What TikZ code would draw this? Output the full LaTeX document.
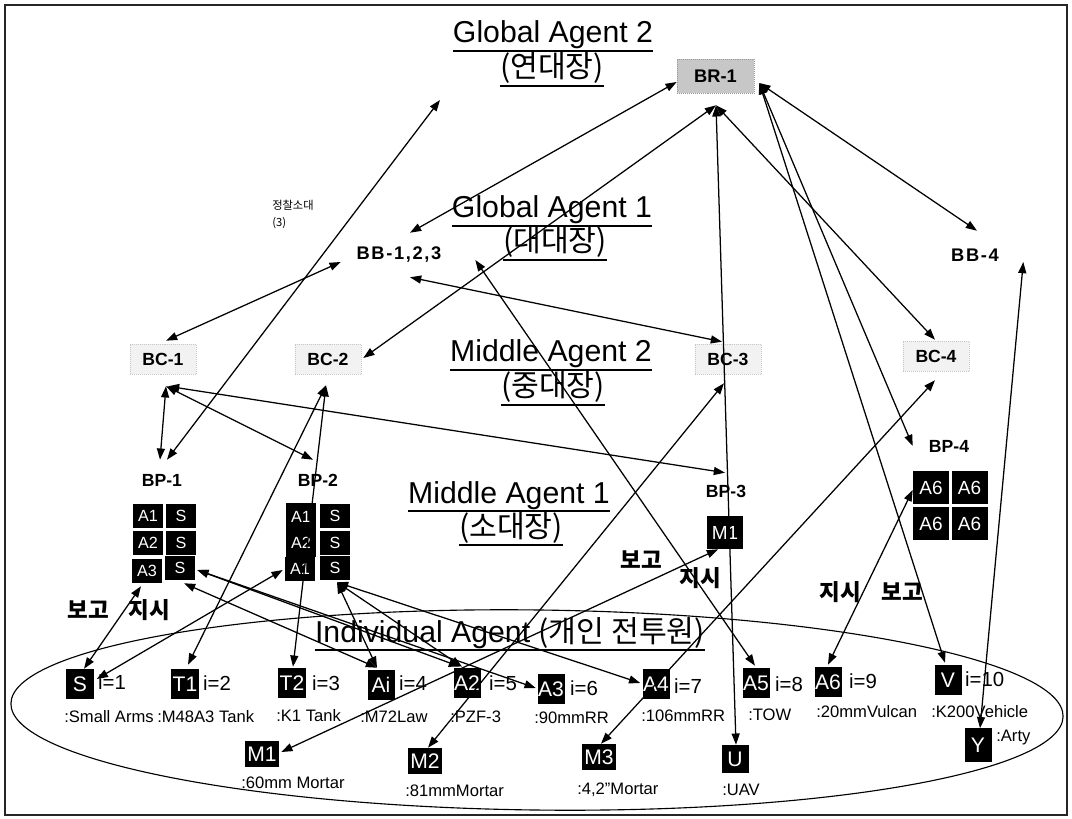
\documentclass[tikz,border=0pt]{standalone}
\usepackage{fontspec}
\setmainfont{Liberation Sans}
\newfontfamily\cjk{Noto Sans CJK KR}
\usetikzlibrary{arrows.meta,calc}

\begin{document}
\begin{tikzpicture}[x=0.025cm,y=-0.025cm,
  every node/.style={inner sep=0pt},
  ttl/.style={font=\fontsize{21.5}{24}\selectfont, anchor=base, inner xsep=0pt, inner ysep=1.2pt},
  ulin/.style={line width=1.1pt},
  blab/.style={font=\bfseries\fontsize{12.5}{14}\selectfont},
  wide/.style={font=\bfseries\fontsize{13}{15}\selectfont\addfontfeature{LetterSpace=9}},
  bcbox/.style={blab, minimum width=1.65cm, minimum height=0.75cm, fill=black!5, draw=black!22, densely dotted},
  bpbox/.style={blab, minimum width=1.8cm, minimum height=1cm},
  cell/.style={fill=black, text=white, font=\fontsize{11.5}{13}\selectfont, minimum width=0.75cm, minimum height=0.6cm},
  bigcell/.style={fill=black, text=white, font=\fontsize{13.5}{15}\selectfont, minimum width=0.9cm, minimum height=0.825cm},
  unit/.style={fill=black, text=white, font=\fontsize{15}{17}\selectfont, minimum width=0.675cm, minimum height=0.75cm},
  mortar/.style={unit, minimum width=0.85cm, minimum height=0.65cm},
  idx/.style={font=\fontsize{14.5}{16}\selectfont, anchor=west},
  desc/.style={font=\fontsize{11.8}{13}\selectfont, anchor=west},
  say/.style={font=\cjk\bfseries\fontsize{16}{18}\selectfont},
  link/.style={line width=0.9pt, {Triangle[length=2.8mm,width=2mm]}-{Triangle[length=2.8mm,width=2mm]}}
]
\useasboundingbox (0,0) rectangle (1072,819);
\draw[line width=1.4pt, black!85] (5,5) rectangle (1067,815);

% level titles
\node[ttl] (ga2)  at (553,43)  {Global Agent 2};
\node[ttl] (ga2k) at (552,78)  {\cjk (연대장)};
\node[ttl] (ga1)  at (552,218) {Global Agent 1};
\node[ttl] (ga1k) at (555,252) {\cjk (대대장)};
\node[ttl] (ma2)  at (551,362) {Middle Agent 2};
\node[ttl] (ma2k) at (553,397) {\cjk (중대장)};
\node[ttl] (ma1)  at (509,503) {Middle Agent 1};
\node[ttl] (ma1k) at (511,537) {\cjk (소대장)};
\node[ttl] (ia)   at (510,642) {Individual Agent {\cjk (개인 전투원)}};
\foreach \t in {ga2,ga2k,ga1,ga1k,ma2,ma2k,ma1,ma1k,ia}
  \draw[ulin] (\t.south west) -- (\t.south east);

% command echelons
\node[blab, minimum width=1.925cm, minimum height=0.85cm, fill=black!22, draw=black!40, densely dotted,
      font=\bfseries\fontsize{13}{15}\selectfont] (br) at (715.5,76) {BR-1};
\node[wide, minimum width=2.4cm, minimum height=1.1cm] (bb) at (399,255) {BB-1,2,3};
\node[wide, minimum width=1.5cm, minimum height=0.75cm] (bb4) at (975,255) {BB-4};
\node[font=\cjk\fontsize{8}{12}\selectfont, align=left, anchor=north west] (scout) at (272,200) {정찰소대\\(3)};
\coordinate (scoutend) at (440,100);

\node[bcbox] (bc1) at (163,359) {BC-1};
\node[bcbox] (bc2) at (328,359) {BC-2};
\node[bcbox] (bc3) at (728,359) {BC-3};
\node[bcbox] (bc4) at (936,356) {BC-4};

\node[bpbox] (bp1) at (162,480) {BP-1};
\node[bpbox] (bp2) at (318,480) {BP-2};
\node[bpbox] (bp3) at (726,491) {BP-3};
\node[bpbox] (bp4) at (949,446) {BP-4};

% platoon cells
\node[cell] (p1a1) at (148,516) {A1};
\node[cell] (p1s1) at (181,516) {S};
\node[cell] (p1a2) at (148,543) {A2};
\node[cell] (p1s2) at (181,543) {S};
\node[cell] (p1a3) at (147,571) {A3};
\node[cell] (p1s3) at (180,568) {S};
\node[cell, minimum height=0.675cm] (p2a1) at (301,516.5) {A1};
\node[cell] (p2s1) at (335,516) {S};
\node[cell, minimum height=0.675cm] (p2a2) at (301,543) {A2};
\node[cell] (p2s2) at (335,543) {S};
\node[cell] (p2a3) at (300,569) {A1};
\node[cell] (p2s3) at (335,568) {S};
\node[bigcell] (p3m) at (725,532.5) {M1};
\node[bigcell] (p4a) at (931,487.5) {A6};
\node[bigcell] (p4b) at (969.5,487.5) {A6};
\node[bigcell] (p4c) at (931,523.5) {A6};
\node[bigcell] (p4d) at (969.5,523.5) {A6};

% individual agents
\node[unit] (s1) at (80,684)  {S};
\node[unit] (t1) at (185,684) {T1};
\node[unit] (t2) at (292,683) {T2};
\node[unit] (ai) at (381,685) {Ai};
\node[unit] (a2) at (467,683) {A2};
\node[unit] (a3) at (551,689) {A3};
\node[unit] (a4) at (656,684) {A4};
\node[unit] (a5) at (756,683) {A5};
\node[unit] (a6) at (828,682) {A6};
\node[unit] (v)  at (948,680) {V};
\node[unit, minimum height=0.825cm] (y) at (978,745) {Y};
\node[mortar] (m1) at (262,754) {M1};
\node[mortar] (m2) at (425,761) {M2};
\node[mortar] (m3) at (599,757) {M3};
\node[unit, minimum height=0.7cm] (u) at (735,759) {U};

\node[idx] (i1)  at ([shift={(4,-2)}]s1.east) {i=1};
\node[idx] (i2)  at ([shift={(4,-1)}]t1.east) {i=2};
\node[idx] (i3)  at ([shift={(6,0)}]t2.east) {i=3};
\node[idx] (i4)  at ([shift={(4,-2)}]ai.east) {i=4};
\node[idx] (i5)  at ([shift={(8,0)}]a2.east) {i=5};
\node[idx] (i6)  at ([shift={(5,-1)}]a3.east) {i=6};
\node[idx] (i7)  at ([shift={(4,2)}]a4.east) {i=7};
\node[idx] (i8)  at ([shift={(5,1)}]a5.east) {i=8};
\node[idx] (i9)  at ([shift={(7,-1)}]a6.east) {i=9};
\node[idx] (i10) at ([shift={(3,-1)}]v.east) {i=10};

\node[desc] (d1)  at (64,717)  {:Small Arms};
\node[desc] (d2)  at (157,717) {:M48A3 Tank};
\node[desc] (d3)  at (276,716) {:K1 Tank};
\node[desc] (d4)  at (360,717) {:M72Law};
\node[desc] (d5)  at (450,717) {:PZF-3};
\node[desc] (d6)  at (534,718) {:90mmRR};
\node[desc] (d7)  at (641,716) {:106mmRR};
\node[desc] (d8)  at (748,715) {:TOW};
\node[desc] (d9)  at (816,712) {:20mmVulcan};
\node[desc] (d10) at (931,712) {:K200Vehicle};
\node[desc] (d11) at (996,738) {:Arty};
\node[desc] (d12) at (241,783) {:60mm Mortar};
\node[desc] (d13) at (405,791) {:81mmMortar};
\node[desc] (d14) at (577,790) {:4,2”Mortar};
\node[desc] (d15) at (722,790) {:UAV};

% report / order marks
\node[say] (rep1) at (88,610)  {보고};
\node[say] (ord1) at (149,610) {지시};
\node[say] (rep2) at (641,560) {보고};
\node[say] (ord2) at (700,578) {지시};
\node[say] (ord3) at (840,592) {지시};
\node[say] (rep3) at (902,592) {보고};

% individual agent boundary
\draw[line width=0.8pt, rotate around={-0.7:(537,710)}] (537,710) ellipse [x radius=13.15cm, y radius=2.5cm];

% command and report links
\draw[link] (scoutend) -- ([shift={(5,0)}]bp1.north);
\draw[link] ([shift={(0,6)}]br.west) -- ([shift={(11,0)}]bb.north);
\draw[link] ([shift={(0.5,12)}]br.south) -- ([shift={(2,-1)}]bc2.east);
\draw[link] ([shift={(11,0)}]bb.south) -- ([shift={(-6,-2)}]bc3.north);
\draw[link] ([shift={(-10,7)}]bb.west) -- ([shift={(3,-3)}]bc1.north);
\draw[link] ([shift={(3,12)}]bc1.south) -- ([shift={(-2,0)}]bp1.north);
\draw[link] ([shift={(3,12)}]bc1.south) -- ([shift={(-5,0)}]bp2.north);
\draw[link] ([shift={(5,12)}]bc1.south) -- ([shift={(-1,2)}]bp3.north);
\draw[link] ([shift={(-2,11)}]bc2.south) -- ([shift={(3,-4)}]t1.north);
\draw[link] ([shift={(-2,11)}]bc2.south) -- ([shift={(1,-1)}]t2.north);
\draw[link] ([shift={(28,5)}]bb.east) -- ([shift={(-1,-2)}]a5.north);
\draw[link] ([shift={(0.5,12)}]br.south) -- ([shift={(1,0)}]u.north);
\draw[link] ([shift={(5,7)}]br.east) -- ([shift={(2,-9)}]bb4.north);
\draw[link] ([shift={(0.5,12)}]br.south) -- ([shift={(-1,-1)}]bc4.north);
\draw[link] ([shift={(5,7)}]br.east) -- (bp4.west);
\draw[link] ([shift={(5,7)}]br.east) -- ([shift={(-3,-2)}]v.north);
\draw[link] ([shift={(18,7)}]bb4.east) -- ([shift={(2,0)}]y.north);
\draw[link] ([shift={(0,2.5)}]p4a.west) -- ([shift={(0,-2)}]a6.north);
\draw[link] ([shift={(2,0)}]m3.north) -- ([shift={(-1,9)}]bc4.south);
\draw[link] ([shift={(3,0)}]m2.north) -- ([shift={(-4,9)}]bc3.south);
\draw[link] ([shift={(2,-2)}]m1.east) -- ([shift={(-7,0)}]p3m.south);
\draw[link] ([shift={(4,0)}]s1.north) -- ([shift={(-6,3)}]p1a3.south);
\draw[link] ([shift={(3,-5)}]s1.east) -- ([shift={(-2,1)}]p2a3.west);
\draw[link] ([shift={(2,2)}]p1s3.east) -- ([shift={(-7,-1)}]a2.north);
\draw[link] ([shift={(2,2)}]p1s3.east) -- ([shift={(-1.5,-1)}]a3.west);
\draw[link] ([shift={(4,3)}]p1s3.south) -- ([shift={(-4,-2)}]ai.north);
\draw[link] ([shift={(2,2)}]p2s3.south) -- ([shift={(-4,-2)}]ai.north);
\draw[link] ([shift={(2,2)}]p2s3.south) -- ([shift={(-5,-1)}]a2.north);
\draw[link] ([shift={(2,2)}]p2s3.south) -- ([shift={(-2,-1)}]a4.west);
\end{tikzpicture}
\end{document}
